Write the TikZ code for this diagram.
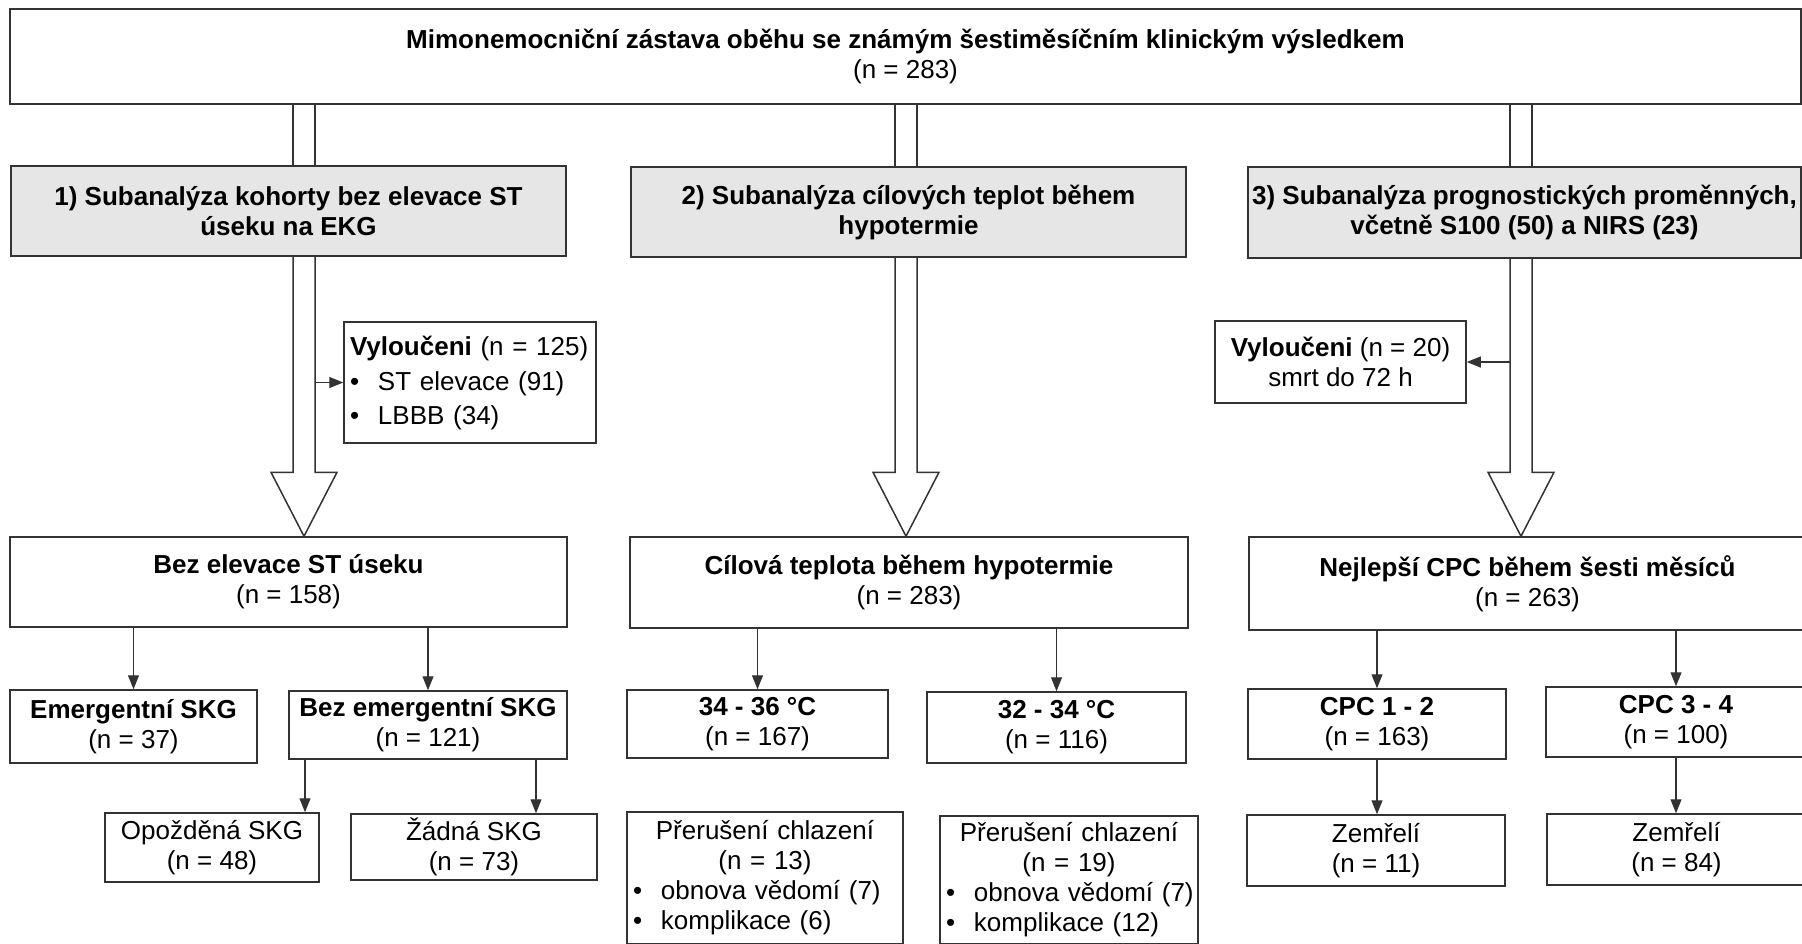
\documentclass[tikz,border=0pt]{standalone}
\usepackage{fontspec}
\setmainfont{Liberation Sans}
\usetikzlibrary{arrows.meta,calc}
\definecolor{linecol}{HTML}{333333}
\definecolor{greyfill}{HTML}{E6E6E6}
\newcommand{\flowkey}[2]{\textbf{#1}\\(n = #2)}
\newcommand{\flowline}[1]{\makebox[\linewidth][l]{\hspace{6pt}#1}}
\newcommand{\flowbullet}[1]{\flowline{\makebox[28pt][l]{•}#1}}
\newcommand{\fatshaft}[2]{\draw[fat] ($(#1)+(-11,0)$) -- ($(#2)+(-11,0)$) ($(#1)+(11,0)$) -- ($(#2)+(11,0)$);}
\newcommand{\fathead}[2]{\draw[fat] ($(#1)+(-11,0)$) -- ($(#2)+(-11,-64)$) -- ($(#2)+(-33,-64)$) -- (#2) -- ($(#2)+(33,-64)$) -- ($(#2)+(11,-64)$) -- ($(#1)+(11,0)$);}

\begin{document}
\begin{tikzpicture}[
      x=1pt, y=-1pt,
      every node/.style={draw=linecol,line width=1.5pt,rectangle,inner sep=0pt,align=center,fill=white,
        font=\fontsize{26}{30}\selectfont},
      grey/.style={fill=greyfill,font=\bfseries\fontsize{26}{30}\selectfont},
      size/.style 2 args={minimum width=#1pt,minimum height=#2pt},
      arr/.style={draw=linecol,line width=1.2pt,-{Triangle[length=14pt,width=11pt]}},
      fat/.style={draw=linecol,line width=1.5pt,line join=miter}
    ]
    \useasboundingbox (0,0) rectangle (1802,943);

    % Draw the boxes at their centres; the size style gives width and height
    % Notes:
    % - the grey boxes are the three subanalyses
    % - the boxes on the right edge run off the page, as in the original

      % top box
      \node[size={1791}{95}] (top) at (905.5,56.5)
        {\textbf{Mimonemocniční zástava oběhu se známým šestiměsíčním klinickým výsledkem}\\(n = 283)};

      % the three subanalyses
      \node[grey,size={555}{90}] (sub1) at (288.5,211) {1) Subanalýza kohorty bez elevace ST\\úseku na EKG};
      \node[grey,size={555}{90}] (sub2) at (908.5,212) {2) Subanalýza cílových teplot během\\hypotermie};
      \node[grey,size={553}{91}] (sub3) at (1524.5,212.5) {3) Subanalýza prognostických proměnných,\\včetně S100 (50) a NIRS (23)};

      % excluded patients
      \node[size={252}{121},text width=252pt] (excl1) at (470,382.5)
        {\flowline{\textbf{Vyloučeni} (n = 125)}\\[5pt]\flowbullet{ST elevace (91)}\\[4pt]\flowbullet{LBBB (34)}};
      \node[size={251}{82}] (excl2) at (1340.5,362) {\textbf{Vyloučeni} (n = 20)\\smrt do 72 h};

      % first column: no ST elevation
      \node[size={557}{90}] (bez) at (288.5,582) {\flowkey{Bez elevace ST úseku}{158}};
      \node[size={247}{73}] (emg) at (133.5,726.5) {\flowkey{Emergentní SKG}{37}};
      \node[size={278}{68}] (bezemg) at (428,725) {\flowkey{Bez emergentní SKG}{121}};
      \node[size={214}{69}] (opoz) at (212,847.5) {Opožděná SKG\\(n = 48)};
      \node[size={246}{66}] (zadna) at (474,847) {Žádná SKG\\(n = 73)};

      % second column: target temperature
      \node[size={558}{91}] (cil) at (909,582.5) {\flowkey{Cílová teplota během hypotermie}{283}};
      \node[size={261}{68}] (t3436) at (757.5,724) {\flowkey{34 - 36 °C}{167}};
      \node[size={259}{71}] (t3234) at (1056.5,727.5) {\flowkey{32 - 34 °C}{116}};
      \node[size={276}{132},text width=276pt] (prer1) at (765,878)
        {Přerušení chlazení\\(n = 13)\\\flowbullet{obnova vědomí (7)}\\\flowbullet{komplikace (6)}};
      \node[size={258}{128},text width=258pt] (prer2) at (1069,880)
        {Přerušení chlazení\\(n = 19)\\\flowbullet{obnova vědomí (7)}\\\flowbullet{komplikace (12)}};

      % third column: best CPC
      \node[size={557}{93}] (cpc) at (1527.5,583.5) {\flowkey{Nejlepší CPC během šesti měsíců}{263}};
      \node[size={258}{70}] (cpc12) at (1377,724) {\flowkey{CPC 1 - 2}{163}};
      \node[size={260}{70}] (cpc34) at (1676,722) {\flowkey{CPC 3 - 4}{100}};
      \node[size={258}{71}] (zem1) at (1376,850.5) {Zemřelí\\(n = 11)};
      \node[size={259}{71}] (zem2) at (1676.5,849.5) {Zemřelí\\(n = 84)};

    % x positions of the wide arrows and of the two lower arrows in column one
      \coordinate (a1) at (304,0);
      \coordinate (a2) at (906,0);
      \coordinate (a3) at (1521,0);
      \coordinate (o1) at (305,0);
      \coordinate (o2) at (536,0);

    % wide hollow arrows: shaft above the grey box, shaft and head below it
      \fatshaft{a1 |- top.south}{a1 |- sub1.north}
      \fathead{a1 |- sub1.south}{a1 |- bez.north}
      \fatshaft{a2 |- top.south}{a2 |- sub2.north}
      \fathead{a2 |- sub2.south}{a2 |- cil.north}
      \fatshaft{a3 |- top.south}{a3 |- sub3.north}
      \fathead{a3 |- sub3.south}{a3 |- cpc.north}

    % side arrows to the excluded boxes
      \draw[arr] ($(a1 |- excl1.west)+(11,0)$) -- (excl1.west);
      \draw[arr] ($(a3 |- excl2.east)+(-11,0)$) -- (excl2.east);

    % thin arrows
      \draw[arr] (bez.south -| emg.north) -- (emg.north);
      \draw[arr] (bez.south -| bezemg.north) -- (bezemg.north);
      \draw[arr] (o1 |- bezemg.south) -- (o1 |- opoz.north);
      \draw[arr] (o2 |- bezemg.south) -- (o2 |- zadna.north);
      \draw[arr] (cil.south -| t3436.north) -- (t3436.north);
      \draw[arr] (cil.south -| t3234.north) -- (t3234.north);
      \draw[arr] (cpc.south -| cpc12.north) -- (cpc12.north);
      \draw[arr] (cpc.south -| cpc34.north) -- (cpc34.north);
      \draw[arr] (cpc12.south) -- (cpc12.south |- zem1.north);
      \draw[arr] (cpc34.south) -- (cpc34.south |- zem2.north);
    \end{tikzpicture}
\end{document}
